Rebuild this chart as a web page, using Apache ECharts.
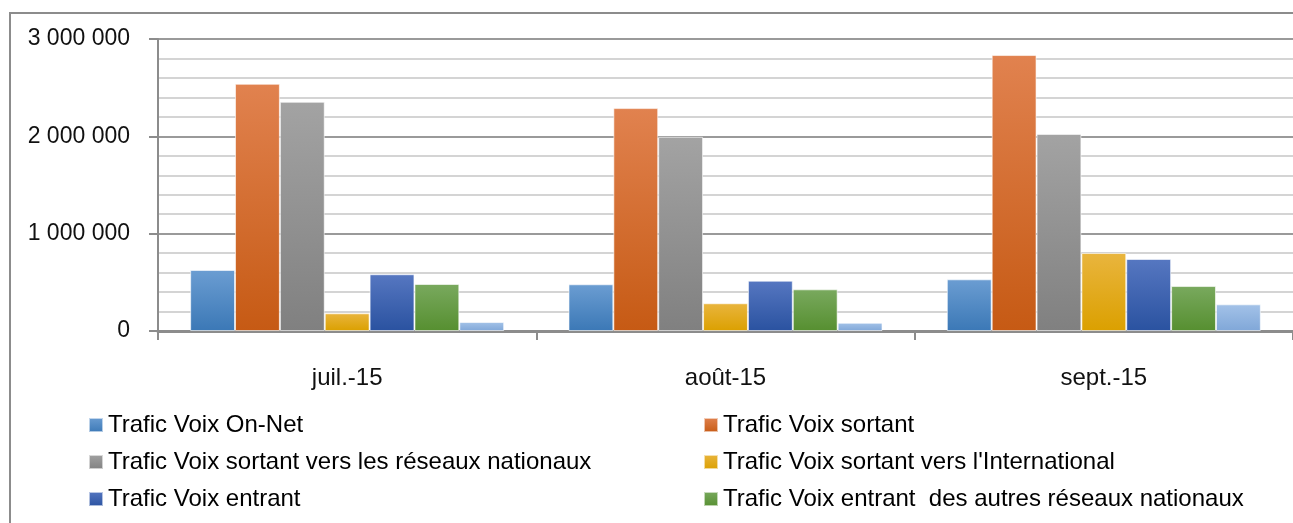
<!DOCTYPE html>
<html>
<head>
<meta charset="utf-8">
<script src="https://cdn.jsdelivr.net/npm/echarts@6/dist/echarts.min.js"></script>
<style>
  html, body { margin: 0; padding: 0; background: #fff; }
  #chart { width: 1293px; height: 523px; }
</style>
</head>
<body>
<div id="chart"></div>
<script>
// months
const categories = ['juil.-15', 'août-15', 'sept.-15']

// series values
const onNet = [627000, 480000, 531000]
const sortant = [2540000, 2290000, 2835000]
const sortantNationaux = [2355000, 1995000, 2025000]
const sortantInternational = [182000, 285000, 801000]
const entrant = [583000, 517000, 740000]
const entrantNationaux = [483000, 428000, 462000]
const entrantInternational = [92000, 85000, 274000]

const seriesNames = [
  'Trafic Voix On-Net',
  'Trafic Voix sortant',
  'Trafic Voix sortant vers les réseaux nationaux',
  "Trafic Voix sortant vers l'International",
  'Trafic Voix entrant',
  'Trafic Voix entrant  des autres réseaux nationaux',
  "Trafic Voix entrant de l'International"
]
const seriesData = [onNet, sortant, sortantNationaux, sortantInternational, entrant, entrantNationaux, entrantInternational]

// gradient top / bottom per series
const colorPairs = [
  ['#6b9dd2', '#3b78b6'],
  ['#e1824f', '#c65a14'],
  ['#a3a3a3', '#808080'],
  ['#e9b53e', '#dba000'],
  ['#5677c1', '#2a52a0'],
  ['#79a95e', '#568f30'],
  ['#a3c2e8', '#80a7d8']
]

const fmt = v => String(v).replace(/\B(?=(\d{3})+(?!\d))/g, ' ')
const font = 'Liberation Sans, Arial, sans-serif'

// legend: two columns, three rows (last series is cut off in the original)
const legendCols = [88, 703]
const legendRows = [423, 460, 497]
const legends = []
for (let i = 0; i < 6; i++) {
  legends.push({
    left: legendCols[i % 2],
    top: legendRows[Math.floor(i / 2)] - 10,
    padding: 0,
    itemWidth: 14, itemHeight: 14, icon: 'rect',
    textStyle: { fontSize: 24, color: '#000', fontFamily: font },
    data: [seriesNames[i]]
  })
}

const chart = echarts.init(document.getElementById('chart'))

chart.setOption({
  animation: false,
  textStyle: { fontFamily: font },
  graphic: [{
    type: 'rect',
    shape: { x: 10, y: 13, width: 1300, height: 530 },
    style: { fill: 'none', stroke: '#8c8c8c', lineWidth: 2 },
    z: -1
  }],
  grid: { left: 158, top: 39, width: 1140, bottom: 192 },
  legend: legends,
  xAxis: {
    type: 'category',
    data: categories,
    axisLine: { lineStyle: { color: '#8c8c8c', width: 3 } },
    axisTick: { show: true, length: 9, lineStyle: { color: '#8c8c8c', width: 2 } },
    axisLabel: { fontSize: 24, color: '#111', margin: 35 }
  },
  yAxis: {
    type: 'value',
    min: 0,
    max: 3000000,
    interval: 1000000,
    axisLine: { show: true, lineStyle: { color: '#8c8c8c', width: 2 } },
    axisTick: { show: true, length: 9, lineStyle: { color: '#8c8c8c', width: 2 } },
    axisLabel: { fontSize: 23, color: '#111', margin: 28, formatter: fmt },
    splitLine: { lineStyle: { color: '#9a9a9a', width: 2 } },
    minorTick: { show: false, splitNumber: 5 },
    minorSplitLine: { show: true, lineStyle: { color: '#d4d4d4', width: 2 } }
  },
  series: seriesData.map((data, i) => ({
    name: seriesNames[i],
    type: 'bar',
    data: data,
    barGap: '0%',
    barCategoryGap: '17%',
    itemStyle: {
      color: new echarts.graphic.LinearGradient(0, 0, 0, 1, [
        { offset: 0, color: colorPairs[i][0] },
        { offset: 1, color: colorPairs[i][1] }
      ]),
      borderColor: 'rgba(255,255,255,0.6)',
      borderWidth: 1
    }
  }))
})
</script>
</body>
</html>
